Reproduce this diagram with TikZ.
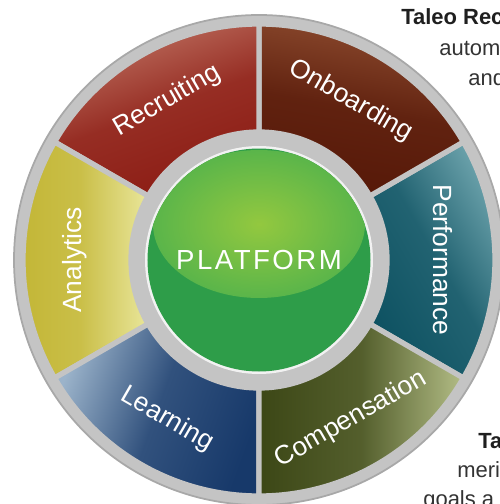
\documentclass[tikz,border=0pt]{standalone}
\usepackage{fontspec}
\setmainfont{Liberation Sans}
\definecolor{ringgray}{HTML}{C4C4C4}
\definecolor{ringedge}{HTML}{A8A8A8}
\definecolor{platdark}{HTML}{2E9D49}
\definecolor{platmid}{HTML}{5AB54A}
\definecolor{platlight}{HTML}{93C83F}
\definecolor{textgray}{HTML}{333333}
\definecolor{recl}{HTML}{BF7262}
\definecolor{recd}{HTML}{8C1C14}
\definecolor{onbl}{HTML}{8C4A2E}
\definecolor{onbd}{HTML}{561808}
\definecolor{perl}{HTML}{6FA5AE}
\definecolor{perd}{HTML}{0E5262}
\definecolor{coml}{HTML}{B3BD86}
\definecolor{comd}{HTML}{3C4716}
\definecolor{lrnl}{HTML}{9BB3CA}
\definecolor{lrnd}{HTML}{17396A}
\definecolor{anal}{HTML}{E9E69A}
\definecolor{anad}{HTML}{C2B534}
\begin{document}
\begin{tikzpicture}[x=0.02cm,y=0.02cm,
  seglabel/.style={text=white, inner sep=0, font=\fontsize{15}{17}\selectfont},
  plat/.style={text=white, inner sep=0, font=\fontsize{15.7}{18}\selectfont\addfontfeatures{LetterSpace=9}},
  side/.style={anchor=base west, inner sep=0, text=textgray, font=\fontsize{12.5}{14}\selectfont},
  sidehead/.style={side, text=black!88, font=\fontsize{12.5}{14}\selectfont\bfseries}]
\path[use as bounding box] (-259,-244) rectangle (241,260);
\clip (-259,-244) rectangle (241,260);
\fill[ringgray, draw=ringedge, line width=1] (0,0) circle (245);
\foreach \a/\lbl/\rot/\lt/\dk/\sh in {-30/Performance/-90/perl/perd/-60,
  30/Onboarding/-30/onbl/onbd/-10, 90/Recruiting/30/recl/recd/20,
  150/Analytics/90/anal/anad/-90, 210/Learning/-30/lrnl/lrnd/70,
  270/Compensation/30/coml/comd/-90} {
  \pgfmathsetmacro\b{\a+60}
  \pgfmathsetmacro\m{\a+30}
  \shade[top color=\lt, bottom color=\dk, middle color=\dk!80!\lt, shading angle=\sh]
    (\a:128) -- (\a:236) arc[start angle=\a, end angle=\b, radius=236]
    -- (\b:128) arc[start angle=\b, end angle=\a, radius=128] -- cycle;
  \draw[ringgray, line width=3]
    (\a:128) -- (\a:236) arc[start angle=\a, end angle=\b, radius=236]
    -- (\b:128) arc[start angle=\b, end angle=\a, radius=128] -- cycle;
  \node[seglabel, rotate=\rot] (\lbl) at (\m:184) {\lbl};
}
\fill[white!90!gray] (0,0) circle (114);
\fill[platdark] (0,0) circle (111.5);
\begin{scope}
\clip (0,0) circle (111.5);
\shade[inner color=platlight, outer color=platmid] (0,36) ellipse (106 and 74);
\end{scope}
\node[plat] (platform) at (0,0) {PLATFORM};
\node[sidehead] (head1) at (142,235) {Taleo Rec};
\node[side] (line1) at (180,204) {autom};
\node[side] (line2) at (209,174) {and};
\node[sidehead] (head2) at (219,-188) {Ta};
\node[side] (line3) at (198,-217) {meri};
\node[side] (line4) at (164,-246) {goals a};
\end{tikzpicture}
\end{document}
